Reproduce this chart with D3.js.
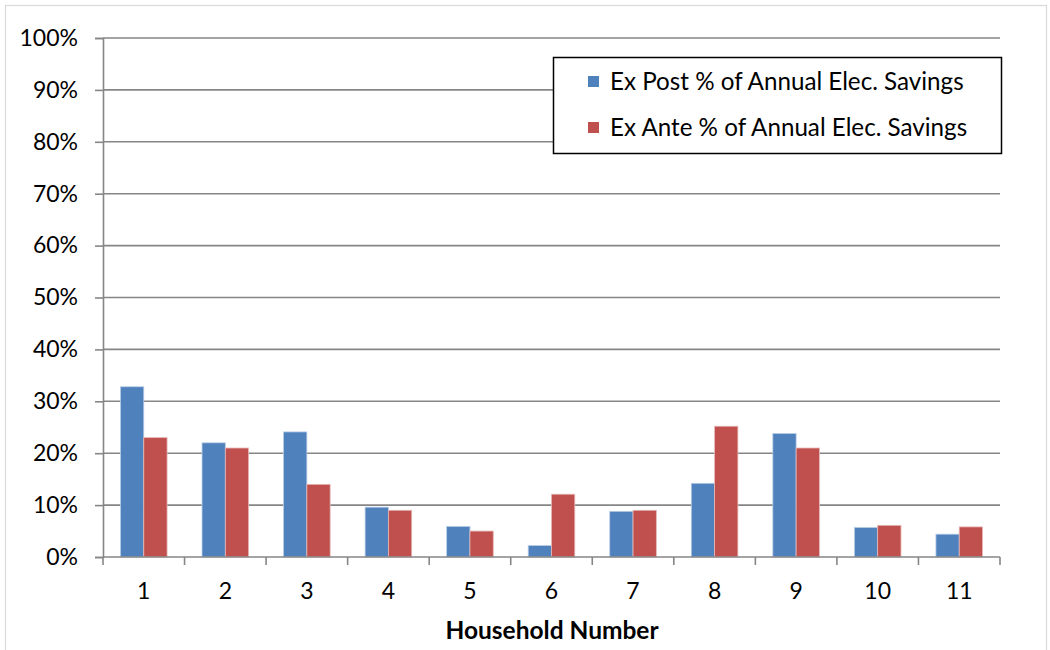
<!DOCTYPE html>
<html><head><meta charset="utf-8">
<script src="https://cdn.jsdelivr.net/npm/d3@7"></script>
<style>body{margin:0;background:#fff;} text{font-family:Lato, "Open Sans", sans-serif;}</style>
</head><body>
<svg id="c" width="1050" height="650"></svg>
<script>
const categories = ["1","2","3","4","5","6","7","8","9","10","11"];
const seriesNames = ["Ex Post % of Annual Elec. Savings","Ex Ante % of Annual Elec. Savings"];
const exPost = [0.328,0.220,0.241,0.096,0.059,0.022,0.088,0.142,0.238,0.057,0.044];
const exAnte = [0.230,0.210,0.140,0.090,0.050,0.121,0.090,0.252,0.210,0.061,0.058];
const yTicks = [0,0.1,0.2,0.3,0.4,0.5,0.6,0.7,0.8,0.9,1.0];
const colors = ["#4F81BD","#C0504D"];
const edge = ["#B9CDE5","#E6B9B8"];

const svg = d3.select("#c");
const L=103, R=1000, T=38, B=557;
svg.append("rect").attr("x",5.5).attr("y",5.5).attr("width",1041).attr("height",700)
  .attr("fill","#fff").attr("stroke","#D9D9D9").attr("stroke-width",1.2);

const x = d3.scaleBand().domain(categories).range([L,R]);
const y = d3.scaleLinear().domain([0,1]).range([B,T]);
const inner = x.bandwidth()/3.5;

svg.append("g").selectAll("line").data(yTicks.filter(d=>d>0)).join("line")
  .attr("x1",L).attr("x2",R).attr("y1",d=>y(d)).attr("y2",d=>y(d))
  .attr("stroke","#868686").attr("stroke-width",1.6);

const series=[exPost,exAnte];
series.forEach((vals,si)=>{
  svg.append("g").selectAll("rect").data(vals).join("rect")
    .attr("x",(d,i)=>x(categories[i])+inner*0.75+si*inner)
    .attr("y",d=>y(d)).attr("width",inner).attr("height",d=>B-y(d))
    .attr("fill",colors[si]).attr("stroke",edge[si]).attr("stroke-width",0.8);
});

const ya = svg.append("g").attr("transform",`translate(${L},0)`)
  .call(d3.axisLeft(y).tickValues(yTicks).tickFormat(d3.format(".0%")).tickSize(8).tickPadding(17));
ya.select(".domain").attr("stroke","#868686").attr("stroke-width",1.6);
ya.selectAll(".tick line").attr("stroke","#868686").attr("stroke-width",1.6);
ya.selectAll(".tick text").attr("font-size",23).attr("fill","#000").attr("font-family","Lato");

svg.append("line").attr("x1",L).attr("x2",R).attr("y1",B).attr("y2",B).attr("stroke","#868686").attr("stroke-width",1.6);
const bounds = categories.map(c=>x(c)).concat([R]);
svg.append("g").selectAll("line").data(bounds).join("line")
  .attr("x1",d=>d).attr("x2",d=>d).attr("y1",B).attr("y2",B+8)
  .attr("stroke","#868686").attr("stroke-width",1.6);
svg.append("g").selectAll("text").data(categories).join("text")
  .attr("x",d=>x(d)+x.bandwidth()/2).attr("y",599).attr("text-anchor","middle")
  .attr("font-size",23).text(d=>d);
svg.append("text").attr("x",552).attr("y",639).attr("text-anchor","middle")
  .attr("font-size",24.5).attr("font-weight","bold").text("Household Number");

svg.append("rect").attr("x",553.5).attr("y",57.5).attr("width",448).attr("height",96)
  .attr("fill","#fff").attr("stroke","#000").attr("stroke-width",1.5);
seriesNames.forEach((n,i)=>{
  const cy = 82 + i*46;
  svg.append("rect").attr("x",588).attr("y",cy-6).attr("width",11).attr("height",11).attr("fill",colors[i]);
  svg.append("text").attr("x",610).attr("y",cy+8).attr("font-size",24.2).text(n);
});
</script>
</body></html>
